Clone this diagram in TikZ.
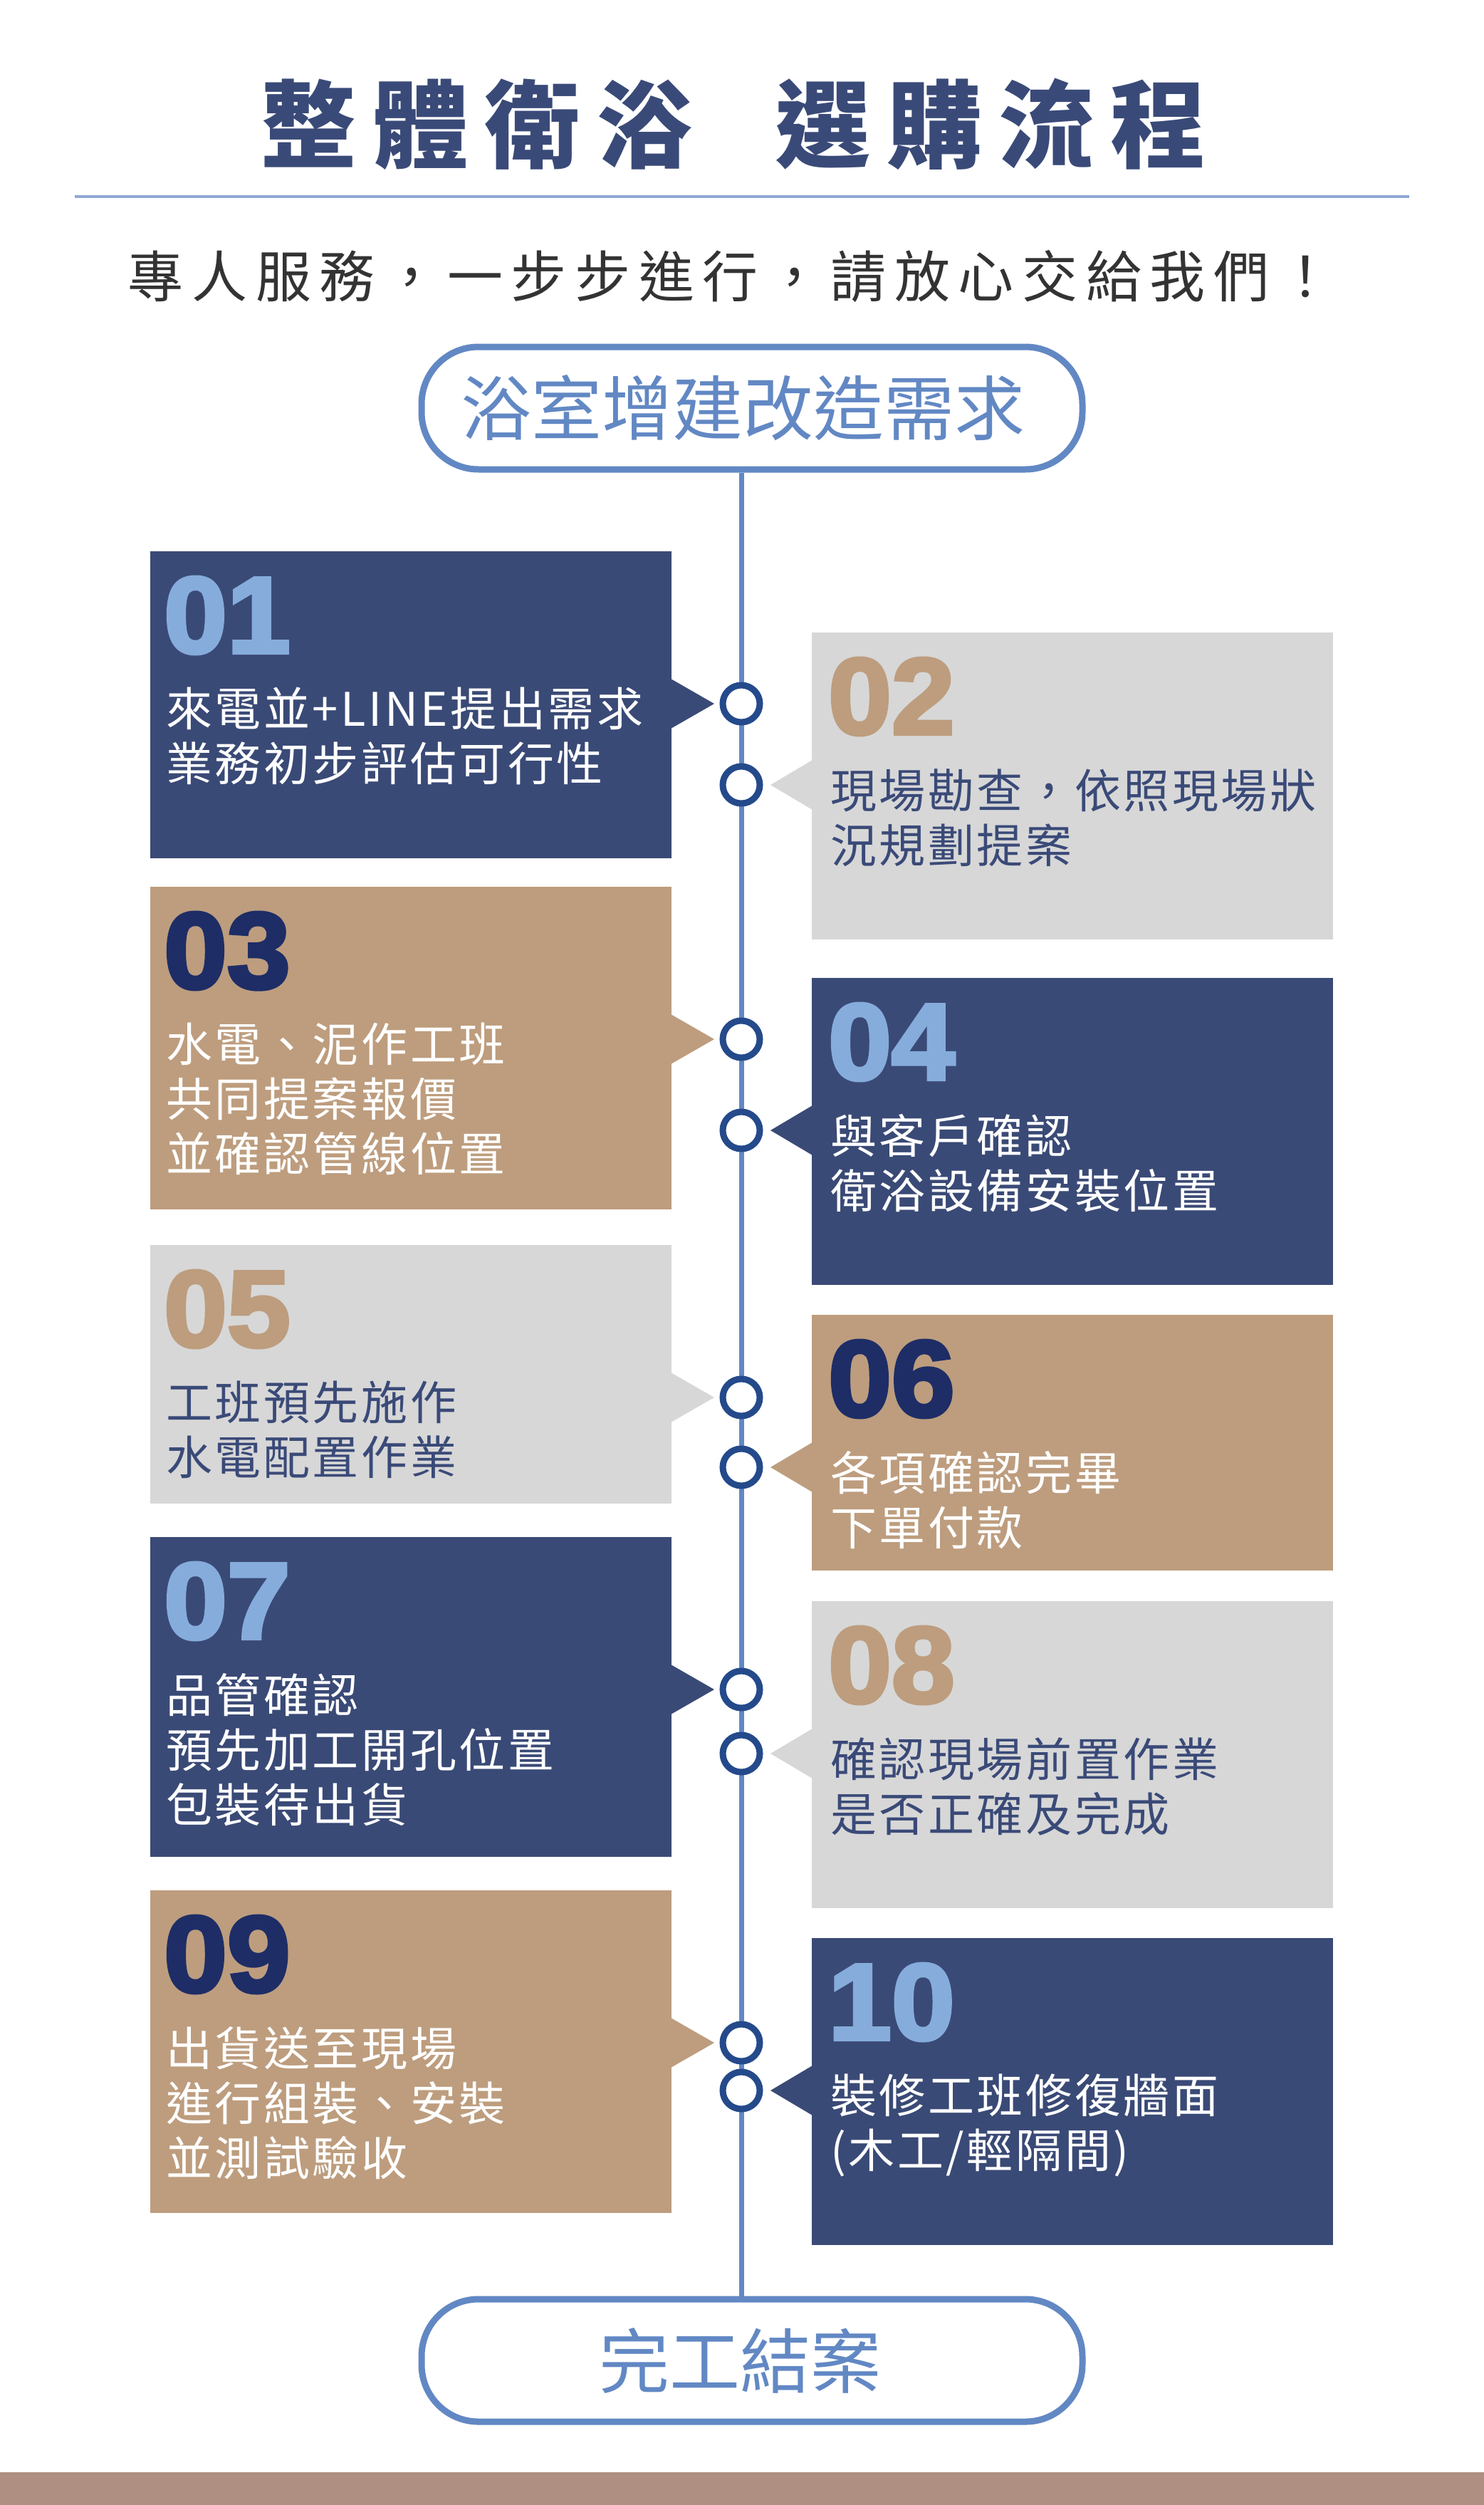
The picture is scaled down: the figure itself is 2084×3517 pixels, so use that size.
\documentclass[tikz,border=0pt]{standalone}
\usepackage{fontspec}
\newfontfamily\cjk{Noto Sans CJK TC}
\newfontfamily\numfont{Liberation Sans}[BoldFeatures={FakeBold=3.5,FakeStretch=1.05}]
\definecolor{fillN}{HTML}{3A4A76}
\definecolor{numN}{HTML}{86ACDC}
\definecolor{txtN}{HTML}{FFFFFF}
\definecolor{fillG}{HTML}{D7D7D7}
\definecolor{numG}{HTML}{BD9D7E}
\definecolor{txtG}{HTML}{3A4A78}
\definecolor{fillT}{HTML}{BD9D7E}
\definecolor{numT}{HTML}{1E2D66}
\definecolor{txtT}{HTML}{FFFFFF}
\definecolor{linec}{HTML}{6288C4}
\definecolor{circc}{HTML}{244A8B}
\definecolor{titlec}{HTML}{3A4A78}
\definecolor{subc}{HTML}{333333}
\definecolor{rulec}{HTML}{8FA8D4}
\definecolor{bandc}{HTML}{AE8F81}
\tikzset{
  boxshape/.style={rectangle, inner sep=0pt, outer sep=0pt, minimum width=732pt},
  numtext/.style={inner sep=0pt, font=\numfont\bfseries\fontsize{152}{152}\selectfont},
  boxtext/.style={inner sep=0pt, align=left, font=\cjk\fontsize{65}{77}\selectfont\addfontfeature{LetterSpace=5.5}},
  dotc/.style={circle, draw=circc, line width=9pt, fill=white, minimum size=52pt, inner sep=0pt},
  pill/.style={rectangle, draw=linec, line width=9pt, rounded corners=80pt, minimum width=928pt, minimum height=172pt, fill=white, text=linec, font=\cjk\fontsize{99}{99}\selectfont},
  vline/.style={draw=linec, line width=7pt}
}
% #1 name, #2 top, #3 bottom, #4 scheme, #5 number, #6 text
\newcommand{\leftstep}[6]{%
  \node[boxshape, fill=fill#4, minimum height={#3-#2}, anchor=north west] (b#1) at (211,#2) {};
  \fill[fill#4] (942,{#2+179}) -- (1003,{#2+214}) -- (942,{#2+249}) -- cycle;
  \node[numtext, text=num#4, anchor=north west] (n#1) at (230,{#2+36}) {#5};
  \node[boxtext, text=txt#4, anchor=north west] (t#1) at (233,{#2+191}) {#6};
  \node[dotc] (d#1) at (1041,{#2+214}) {};
}
\newcommand{\rightstep}[6]{%
  \node[boxshape, fill=fill#4, minimum height={#3-#2}, anchor=north west] (b#1) at (1140,#2) {};
  \fill[fill#4] (1141,{#2+179}) -- (1082,{#2+214}) -- (1141,{#2+249}) -- cycle;
  \node[numtext, text=num#4, anchor=north west] (n#1) at (1163,{#2+36}) {#5};
  \node[boxtext, text=txt#4, anchor=north west] (t#1) at (1166,{#2+191}) {#6};
  \node[dotc] (d#1) at (1041,{#2+214}) {};
}
\begin{document}
\begin{tikzpicture}[x=1pt,y=-1pt]
\fill[white] (0,0) rectangle (2084,3517);
\useasboundingbox (0,0) rectangle (2084,3517);
% title
\node[text=titlec, inner sep=0pt, font=\cjk\bfseries\fontsize{134}{134}\selectfont\addfontfeature{LetterSpace=17}] (title) at (1030,174) {整體衛浴\hspace{118pt}選購流程};
\draw[rulec, line width=4.5pt] (105,276) -- (1979,276);
\node[text=subc, inner sep=0pt, font=\cjk\fontsize{78}{78}\selectfont\addfontfeature{LetterSpace=15}] (sub) at (1026,388) {專人服務，一步步進行，請放心交給我們！};
% pills and axis
\coordinate (axis) at (1041,0);
\node[pill] (start) at (1056,573) {浴室增建改造需求\rule{26pt}{0pt}};
\node[pill] (finish) at (1056,3314) {完工結案\rule{34pt}{0pt}};
\draw[vline] (start.south -| axis) -- (finish.north -| axis);
% steps
\leftstep{1}{774}{1205}{N}{01}{來電並+LINE提出需求\\業務初步評估可行性}
\rightstep{2}{888}{1319}{G}{02}{現場勘查，依照現場狀\\況規劃提案}
\leftstep{3}{1245}{1698}{T}{03}{水電、泥作工班\\共同提案報價\\並確認管線位置}
\rightstep{4}{1373}{1804}{N}{04}{與客戶確認\\衛浴設備安裝位置}
\leftstep{5}{1748}{2111}{G}{05}{工班預先施作\\水電配置作業}
\rightstep{6}{1846}{2205}{T}{06}{各項確認完畢\\下單付款}
\leftstep{7}{2158}{2607}{N}{07}{品管確認\\預先加工開孔位置\\包裝待出貨}
\rightstep{8}{2248}{2679}{G}{08}{確認現場前置作業\\是否正確及完成}
\leftstep{9}{2654}{3107}{T}{09}{出貨送至現場\\進行組裝、安裝\\並測試驗收}
\rightstep{10}{2721}{3152}{N}{10}{裝修工班修復牆面\\(木工/輕隔間)}
% bottom band
\fill[bandc] (0,3471) rectangle (2084,3517);
\end{tikzpicture}
\end{document}
